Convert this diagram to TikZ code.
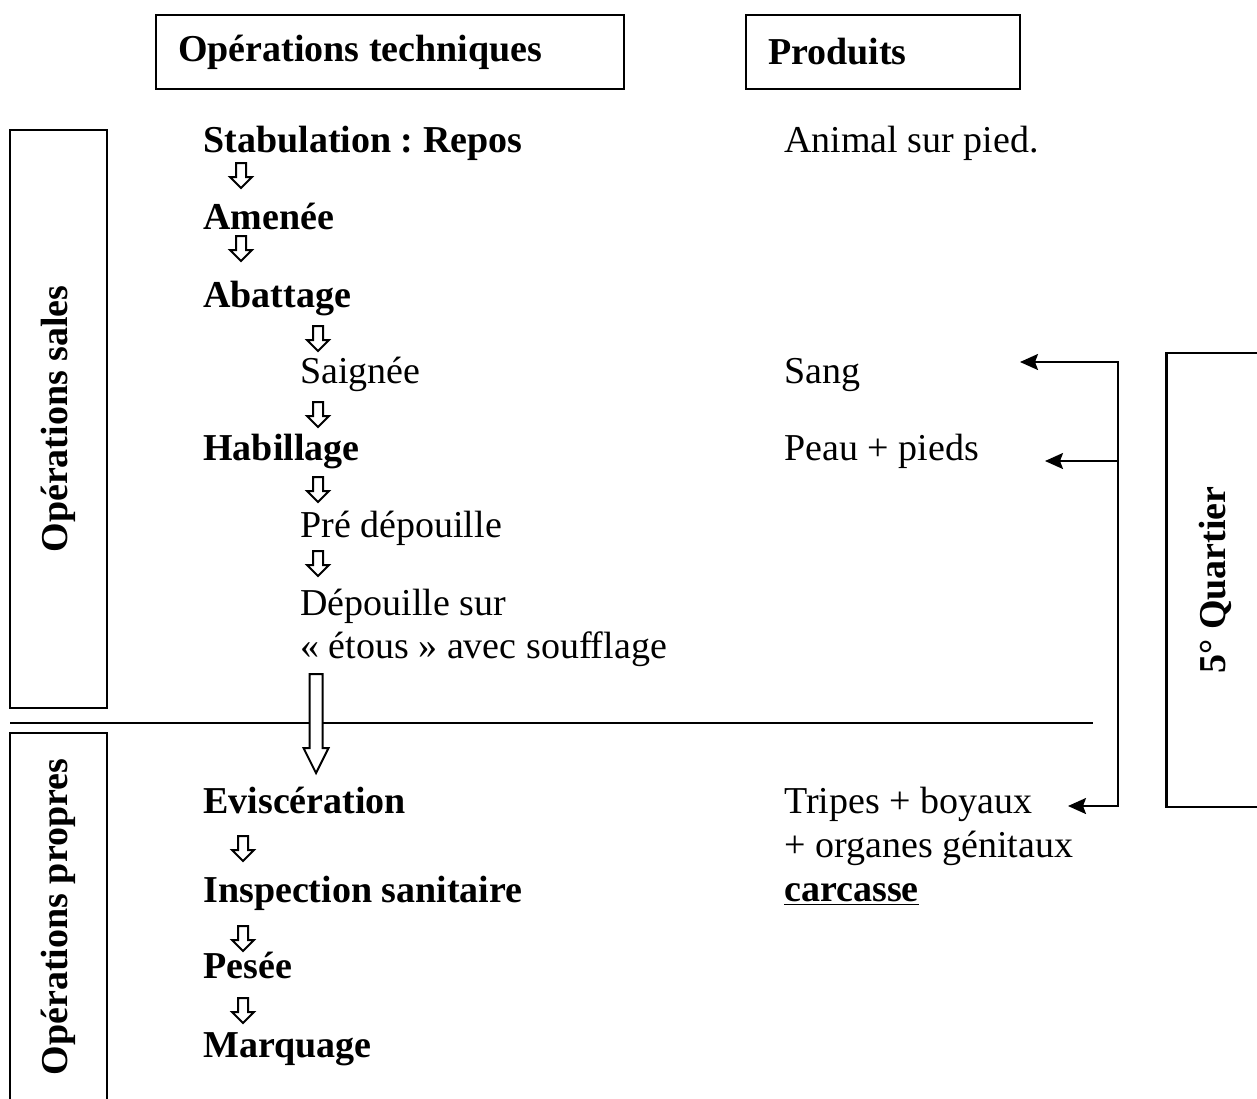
\documentclass[tikz,border=0pt]{standalone}
\usepackage{fontspec}
\setmainfont{Liberation Serif}
\usetikzlibrary{arrows.meta}
\frenchspacing

\tikzset{
    flowarrow/.pic={\draw[line width=1pt, fill=white] (-5,0) -- (5,0) -- (5,14) -- (11,14) -- (0,25) -- (-11,14) -- (-5,14) -- cycle;},
    bigflowarrow/.pic={\draw[line width=1pt, fill=white] (-6.5,0) -- (6.5,0) -- (6.5,74) -- (12.5,74) -- (0,99) -- (-12.5,74) -- (-6.5,74) -- cycle;}
}

\begin{document}
\begin{tikzpicture}[x=0.5pt, y=-0.5pt,
    box/.style={draw, line width=1.2pt, inner sep=0pt, font=\fontsize{19}{23}\selectfont\bfseries},
    header/.style={box, minimum height=37pt, align=flush left, inner xsep=11pt},
    side/.style={box, rotate=90, minimum height=48.5pt},
    op/.style={anchor=base west, inner sep=0pt, font=\fontsize{19}{23}\selectfont\bfseries},
    sub/.style={anchor=base west, inner sep=0pt, font=\fontsize{19}{23}\selectfont},
    link/.style={line width=1pt},
    tip/.style={-{Stealth[length=9pt, width=8pt, inset=1.5pt]}}
]
    % --- Page ---
    \clip (0,0) rectangle (1257,1098);
    \fill[white] (0,0) rectangle (1257,1098);

    % --- Column headers ---
    \node[header, minimum width=234pt, text width=212pt] (tech) at (390,52) {Opérations techniques};
    \node[header, minimum width=136pt, text width=115pt] (prod) at (883,52) {Produits};

    % --- Side boxes ---
    \node[side, minimum width=289pt] (sales) at (58.5,419) {Opérations sales};
    \node[side, minimum width=184pt] (propres) at (58.5,917) {Opérations propres};
    \node[side, minimum width=227pt] (quartier) at (1215,580) {5° Quartier};

    % --- Dirty operations ---
    \node[op] (stab) at (203,152) {Stabulation : Repos};
    \pic at (241,163) {flowarrow};
    \node[op] (amenee) at (203,229) {Amenée};
    \pic at (241,236) {flowarrow};
    \node[op] (abattage) at (203,307) {Abattage};
    \pic at (318,326) {flowarrow};
    \node[sub] (saignee) at (300,383) {Saignée};
    \pic at (318,402) {flowarrow};
    \node[op] (habillage) at (203,460) {Habillage};
    \pic at (318,477) {flowarrow};
    \node[sub] (predep) at (300,537) {Pré dépouille};
    \pic at (318,551) {flowarrow};
    \node[sub] (depouille) at (300,615) {Dépouille sur};
    \node[sub] (etous) at (300,658) {« étous » avec soufflage};

    % --- Boundary between dirty and clean ---
    \coordinate (lineL) at (10,723);
    \coordinate (lineR) at (1093,723);
    \draw[link] (lineL) -- (lineR);
    \pic at (316,674) {bigflowarrow};

    % --- Clean operations ---
    \node[op] (evisc) at (203,813) {Eviscération};
    \pic at (243,836) {flowarrow};
    \node[op] (inspect) at (203,902) {Inspection sanitaire};
    \pic at (243,926) {flowarrow};
    \node[op] (pesee) at (203,978) {Pesée};
    \pic at (243,998) {flowarrow};
    \node[op] (marquage) at (203,1057) {Marquage};

    % --- Products ---
    \node[sub] (animal) at (784,152) {Animal sur pied.};
    \node[sub] (sang) at (784,383) {Sang};
    \node[sub] (peau) at (784,460) {Peau + pieds};
    \node[sub] (tripes) at (784,813) {Tripes + boyaux};
    \node[sub] (organes) at (784,857) {+ organes génitaux};
    \node[op] (carcasse) at (784,901) {\underline{carcasse}};

    % --- 5th quarter links ---
    \coordinate (sangtip) at (1020,362);
    \coordinate (peautip) at (1045,461);
    \coordinate (tripestip) at (1068,806);
    \coordinate (bustop) at (1118,362);
    \coordinate (busmid) at (1118,461);
    \coordinate (busbot) at (1118,806);
    \draw[link, {Stealth[length=9pt, width=8pt, inset=1.5pt]}-{Stealth[length=9pt, width=8pt, inset=1.5pt]}] (sangtip) -- (bustop) -- (busbot) -- (tripestip);
    \draw[link, tip] (busmid) -- (peautip);
\end{tikzpicture}
\end{document}
